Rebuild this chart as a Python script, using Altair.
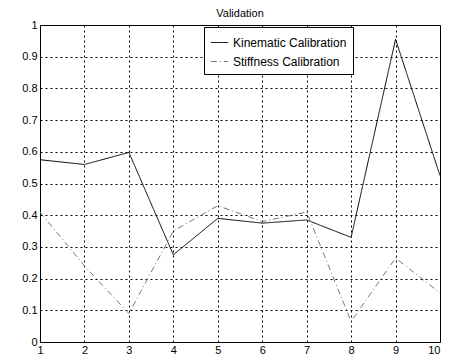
import altair as alt
import pandas as pd

x_vals = [1, 2, 3, 4, 5, 6, 7, 8, 9, 10]
kinematic = [0.575, 0.560, 0.598, 0.275, 0.390, 0.375, 0.385, 0.330, 0.955, 0.525]
stiffness = [0.410, 0.240, 0.090, 0.350, 0.430, 0.380, 0.410, 0.065, 0.265, 0.155]
series_names = ["Kinematic Calibration", "Stiffness Calibration"]

rows = []
for i, x in enumerate(x_vals):
    rows.append({"x": x, "y": kinematic[i], "series": series_names[0]})
    rows.append({"x": x, "y": stiffness[i], "series": series_names[1]})
df = pd.DataFrame(rows)

chart = alt.Chart(df).mark_line(strokeWidth=1).encode(
    x=alt.X("x:Q", scale=alt.Scale(domain=[1, 10], nice=False),
            axis=alt.Axis(values=x_vals, title=None, format="d", labelPadding=2,
                          labelAlign=alt.ExprRef("datum.value === 10 ? 'right' : 'center'"))),
    y=alt.Y("y:Q", scale=alt.Scale(domain=[0, 1], nice=False),
            axis=alt.Axis(values=[round(i * 0.1, 1) for i in range(11)], title=None, format="~g")),
    color=alt.Color("series:N", scale=alt.Scale(domain=series_names, range=["#000000", "#777777"]),
                    legend=alt.Legend(title=None, orient="none", legendX=164, legendY=2,
                                      fillColor="white", strokeColor="black", padding=6,
                                      symbolType="stroke", symbolSize=300, symbolStrokeWidth=1,
                                      labelFontSize=12, labelFont="Liberation Sans",
                                      labelColor="black", rowPadding=3)),
    strokeDash=alt.StrokeDash("series:N", scale=alt.Scale(domain=series_names, range=[[1, 0], [6, 3, 1, 3]]),
                              legend=None),
).properties(
    width=400, height=317,
    title=alt.TitleParams("Validation", fontSize=11, font="Liberation Sans", fontWeight="normal", color="black", offset=0),
    autosize=alt.AutoSizeParams(type="none"),
    padding={"left": 32, "top": 17, "right": 1, "bottom": 13},
).configure_axis(
    grid=True, gridColor="black", gridDash=[2, 3], gridOpacity=1, gridWidth=1,
    domain=False, tickColor="black", tickSize=0,
    labelFont="Liberation Sans", labelFontSize=11, labelColor="black", labelPadding=3,
).configure_view(stroke="black", strokeWidth=1)

chart.save("out.html", embed_options={"renderer": "svg", "actions": False})
